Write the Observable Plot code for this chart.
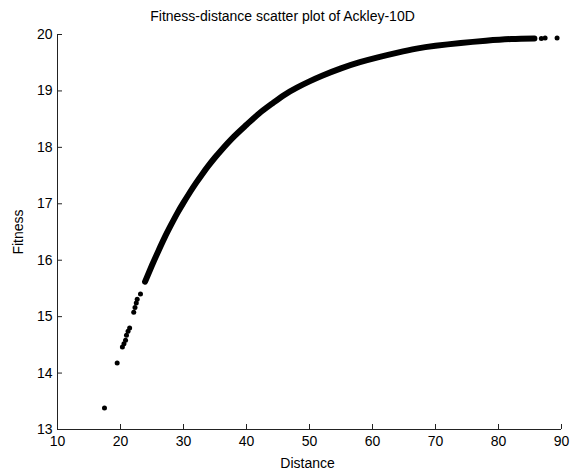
<!DOCTYPE html>
<html>
<head>
<meta charset="utf-8">
<script src="https://cdn.jsdelivr.net/npm/d3@7"></script>
<script src="https://cdn.jsdelivr.net/npm/@observablehq/plot@0.6"></script>
<style>
  html, body { margin: 0; padding: 0; background: #fff; }
  #chart svg { display: block; }
</style>
</head>
<body>
<div id="chart"></div>
<script>
// Labels
const titleText = "Fitness-distance scatter plot of Ackley-10D";
const xLabel = "Distance";
const yLabel = "Fitness";

// Tick values
const xTicks = [10, 20, 30, 40, 50, 60, 70, 80, 90];
const yTicks = [13, 14, 15, 16, 17, 18, 19, 20];

// Dense run of samples: distance vs. fitness along the main band
const bandDistance = [23.9, 25, 26, 27, 28, 29, 30, 31, 32, 33, 34, 35, 36, 38, 40, 42, 44, 46, 48, 50, 52, 55, 58, 61, 64, 67, 70, 74, 78, 82, 85.7];
const bandFitness  = [15.62, 15.91, 16.16, 16.40, 16.62, 16.83, 17.02, 17.20, 17.37, 17.53, 17.68, 17.82, 17.95, 18.19, 18.40, 18.60, 18.77, 18.93, 19.06, 19.17, 19.27, 19.40, 19.51, 19.60, 19.68, 19.75, 19.80, 19.85, 19.89, 19.92, 19.93];

// Isolated samples near both ends of the band
const strayDistance = [17.46, 19.47, 20.3, 20.55, 20.8, 20.95, 21.2, 21.45, 22.1, 22.3, 22.5, 22.65, 23.17, 86.8, 87.4, 89.3];
const strayFitness  = [13.38, 14.18, 14.46, 14.52, 14.58, 14.67, 14.74, 14.80, 15.08, 15.16, 15.24, 15.31, 15.40, 19.93, 19.94, 19.94];

const band = bandDistance.map((d, i) => ({distance: d, fitness: bandFitness[i]}));
const strays = strayDistance.map((d, i) => ({distance: d, fitness: strayFitness[i]}));

const W = 570, H = 476;
const mL = 57, mR = 9, mT = 34, mB = 47;
const innerW = W - mL - mR, innerH = H - mT - mB;
const tickLen = 5;
const font = "'Liberation Sans', Arial, Helvetica, sans-serif";
const ink = "#000";

const chart = Plot.plot({
  width: W,
  height: H,
  marginLeft: mL,
  marginRight: mR,
  marginTop: mT,
  marginBottom: mB,
  style: {fontFamily: font, fontSize: "14px", background: "#fff", color: ink, overflow: "visible"},
  x: {domain: [10, 90]},
  y: {domain: [13, 20]},
  marks: [
    // axis lines (left and bottom only)
    Plot.ruleX([10], {stroke: "#222", strokeWidth: 1}),
    Plot.ruleY([13], {stroke: "#222", strokeWidth: 1}),
    // inward tick marks
    Plot.ruleX(xTicks, {x: d => d, insetTop: innerH - tickLen, stroke: "#222", strokeWidth: 1}),
    Plot.ruleY(yTicks, {y: d => d, insetRight: innerW - tickLen, stroke: "#222", strokeWidth: 1}),
    // tick labels
    Plot.axisX({ticks: xTicks, tickFormat: "d", tickSize: 0, tickPadding: 7, label: null, fontSize: 14, fill: ink}),
    Plot.axisY({ticks: yTicks, tickFormat: "d", tickSize: 0, tickPadding: 5, label: null, fontSize: 14, fill: ink}),
    // the scatter
    Plot.line(band, {x: "distance", y: "fitness", stroke: ink, strokeWidth: 6, curve: "natural", strokeLinecap: "round", strokeLinejoin: "round"}),
    Plot.dot(strays, {x: "distance", y: "fitness", r: 2.5, fill: ink, stroke: "none"}),
    // title and axis titles
    Plot.text([titleText], {frameAnchor: "top", dx: -27, dy: -13.5, lineAnchor: "bottom", fontSize: 14, fill: ink}),
    Plot.text([xLabel], {frameAnchor: "bottom", dx: -2, dy: 38, lineAnchor: "bottom", fontSize: 14, fill: ink}),
    Plot.text([yLabel], {frameAnchor: "left", dx: -39, rotate: -90, textAnchor: "middle", lineAnchor: "middle", fontSize: 14, fill: ink})
  ]
});

document.getElementById("chart").appendChild(chart);
</script>
</body>
</html>
